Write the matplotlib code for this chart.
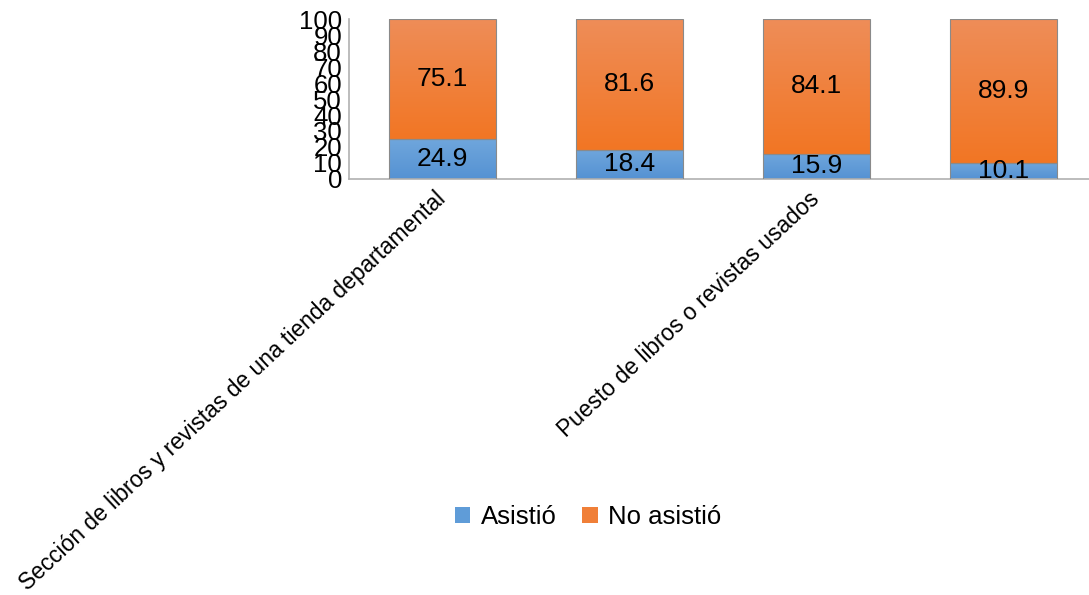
import numpy as np
import matplotlib
matplotlib.use('Agg')
import matplotlib.pyplot as plt
from matplotlib.colors import LinearSegmentedColormap
from matplotlib.patches import Patch

plt.rcParams['font.family'] = ['Liberation Sans', 'DejaVu Sans']

# Only every other category name is printed on the axis
categories = ['Sección de libros y revistas de una tienda departamental', '',
              'Puesto de libros o revistas usados', '']
asistio = [24.9, 18.4, 15.9, 10.1]
no_asistio = [75.1, 81.6, 84.1, 89.9]
yticks = [0, 10, 20, 30, 40, 50, 60, 70, 80, 90, 100]

fig = plt.figure(figsize=(10.89, 5.95), dpi=100)
# axis runs past the right edge of the picture, as in the original
ax = fig.add_axes([349 / 1089, 1 - 179 / 595, 748 / 1089, 160 / 595])

x = np.arange(len(categories))
width = 0.572

bars1 = ax.bar(x, asistio, width, color='#5B9BD5', edgecolor='#8a8a8a',
               linewidth=0.8)
bars2 = ax.bar(x, no_asistio, width, bottom=asistio, color='#ED7D31',
               edgecolor='#8a8a8a', linewidth=0.8)

# vertical gradient fill clipped to each bar
grads = [(bars1, ['#5592d3', '#6fa6dc']), (bars2, ['#f27624', '#ee8d58'])]
for bars, cols in grads:
    cmap = LinearSegmentedColormap.from_list('g', cols)
    for b in bars:
        x0, y0 = b.get_x(), b.get_y()
        w, h = b.get_width(), b.get_height()
        im = ax.imshow(np.linspace(0, 1, 64).reshape(-1, 1), cmap=cmap,
                       extent=[x0, x0 + w, y0, y0 + h], origin='lower',
                       aspect='auto', zorder=b.get_zorder() + 0.1)
        im.set_clip_path(b)
    for b in bars:
        b.set_facecolor('none')
        b.set_zorder(3)

for i in range(len(x)):
    ax.text(x[i], asistio[i] / 2, '%.1f' % asistio[i], ha='center',
            va='center', fontsize=19, zorder=5)
    ax.text(x[i], asistio[i] + no_asistio[i] / 2, '%.1f' % no_asistio[i],
            ha='center', va='center', fontsize=19, zorder=5)

ax.set_xlim(-0.5, len(categories) - 0.5)
ax.set_ylim(0, 100)
ax.set_yticks(yticks)
ax.set_yticklabels([str(t) for t in yticks], fontsize=18.5)
ax.set_xticks(x)
ax.set_xticklabels(categories, rotation=43, ha='right', va='center',
                   rotation_mode='anchor', fontsize=16.4)
ax.tick_params(axis='x', length=0, pad=12)
ax.tick_params(axis='y', length=0, pad=5)

for s in ['top', 'right']:
    ax.spines[s].set_visible(False)
ax.spines['left'].set_color('#b0b0b0')
ax.spines['bottom'].set_color('#b0b0b0')
ax.spines['left'].set_linewidth(1.2)
ax.spines['bottom'].set_linewidth(1.2)

handles = [Patch(facecolor='#5f9cd8', edgecolor='none'),
           Patch(facecolor='#f07f38', edgecolor='none')]
fig.legend(handles=handles, labels=['Asistió', 'No asistió'],
           loc='center', bbox_to_anchor=(588 / 1089, 1 - 517 / 595),
           ncol=2, frameon=False, fontsize=18.5, handlelength=0.6,
           handleheight=0.6, columnspacing=1.0, handletextpad=0.4)

fig.savefig('out.png', dpi=100)
